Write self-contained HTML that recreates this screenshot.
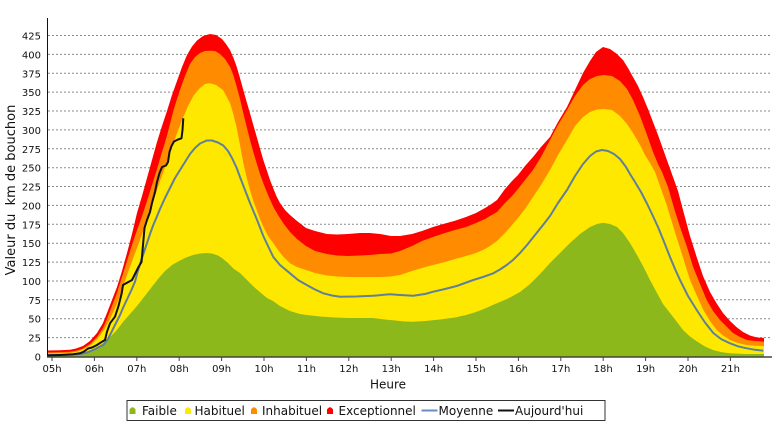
<!DOCTYPE html>
<html><head><meta charset="utf-8"><style>
html,body{margin:0;padding:0;background:#fff;}
svg{display:block;}
text{font-family:"DejaVu Sans","Liberation Sans",sans-serif;fill:#111;}
</style></head><body>
<svg width="776" height="437" viewBox="0 0 776 437" xmlns="http://www.w3.org/2000/svg">
<rect width="776" height="437" fill="#fff"/>
<!-- grid -->
<g stroke="#8a8a8a" stroke-width="1" stroke-dasharray="2,2">
<line x1="48" y1="337.6" x2="771" y2="337.6"/>
<line x1="48" y1="318.7" x2="771" y2="318.7"/>
<line x1="48" y1="299.8" x2="771" y2="299.8"/>
<line x1="48" y1="281" x2="771" y2="281"/>
<line x1="48" y1="262.1" x2="771" y2="262.1"/>
<line x1="48" y1="243.2" x2="771" y2="243.2"/>
<line x1="48" y1="224.3" x2="771" y2="224.3"/>
<line x1="48" y1="205.4" x2="771" y2="205.4"/>
<line x1="48" y1="186.5" x2="771" y2="186.5"/>
<line x1="48" y1="167.7" x2="771" y2="167.7"/>
<line x1="48" y1="148.8" x2="771" y2="148.8"/>
<line x1="48" y1="129.9" x2="771" y2="129.9"/>
<line x1="48" y1="111" x2="771" y2="111"/>
<line x1="48" y1="92.1" x2="771" y2="92.1"/>
<line x1="48" y1="73.3" x2="771" y2="73.3"/>
<line x1="48" y1="54.4" x2="771" y2="54.4"/>
<line x1="48" y1="35.5" x2="771" y2="35.5"/>
</g>
<!-- red -->
<polygon fill="#ff0000" points="47,350.5 60,350.3 70,349.7 76,348.5 83,346 90,341 97,333 103,323 107,313 112,300 117,287 122,271 127,253 132,234 137,213 142,196 147,178 152,160 157,142 162,126 167,111 172,95 177,81 182,67 187,55 192,46.5 197,40.5 203,36 210,34 216,35 222,39 226,44 230,50 233.5,58 236.7,66.7 240,78 243.3,90 246.7,102 250,113.3 253.3,125 256.7,136.7 260,148.5 263.3,160 266.7,170 270,180 273.3,188.5 276.7,196.7 280,203 285,210 290,215 297,221 306,228 315,231 327,234 337,234.5 348,234 360,233 370,233 380,234 391,236 400,236 412,234 422,231 433,227 445,223.5 455,220.7 466,217 476,213 485,208 490,205 497,200 505,189 512,181 518,175 525,166 533,157 541,147 550,137 558,122 567,107 575,90 583,73 590,61 596,52 603,47 610,49 617,54 623,60 628,68 633,77 638,86 643,97 648,109 653,122 658,135 663,149 668,163 673,177 678,191 683,210 690,236 697,258 703,276 710,292 717,304 723,313 730,321 737,327.5 743,332 750,335.5 757,337.5 764,338 764,357 47,357"/>
<!-- orange -->
<polygon fill="#ff8c00" points="47,352.5 60,352.3 70,351.8 76,350.8 83,348.5 90,344 97,337 103,328 107,319 112,306 117,293 122,277 127,261 132,245 137,230 140,222 146.7,202 151.7,186 156.7,170 161.7,153 166.7,136.7 170,124 173.3,111 176.7,100 180,90 185,76 190,64 195,57 200,53 205,51 210,50.7 215,51 220,54 225,59 230,66.7 233.3,75 236.7,86.7 240,99 243.3,113.3 246.7,127 250,140 253.3,152 256.7,163.3 260,174 263.3,183.3 268,195 273.3,206.7 278,215 283.3,223.3 290,232 297,239 306,246 315,251 327,254 337,255.5 348,256 360,255.5 370,255 380,254 391,253.5 400,251 412,246 422,241 433,237 445,233 455,230 466,227 476,223 485,219 490,216 497,212 505,203 512,196 518,189 525,180 533,170 541,157 550,140 558,125 567,110 575,96 583,85 590,79 597,76 604,75 612,76 620,81 627,89 633,100 640,116 647,135 653,152 658,164 662,172 668,187 674,208 680,227 687,247 693,266.7 700,284 706.7,300 713,311 720,320 727,327 733,333 740,337 747,340 755,341 764,341.7 764,357 47,357"/>
<!-- yellow -->
<polygon fill="#ffe800" points="47,353.5 60,353.3 70,353 78,351.5 85,348.5 92,344 98,338 104,330 110,319 116,306 122,290 128,272 134,256 140,240 146,223 152,205 158,187 164,170 170,153 176,136 182,120 188,106 194,95 200,88 205,84 210,83.3 216,85 223,90 230,103 233,113 236.7,128 240,145 243.3,163 246.7,178 250,190 253.3,201 256.7,210 260,219 263.3,226.7 268,236 273.3,243.3 278,250 283.3,256.7 290,263.3 297,267 306,270 315,273 327,275.5 337,276.5 348,277 360,277 370,277 380,277 391,276.5 400,275 412,271 422,268 433,265 445,262 455,259 466,256 476,253 485,249 490,246 497,241 505,233 512,225 518,218 525,209 533,197 541,185 550,170 558,155 567,140 575,126 583,117 590,112 597,109.5 604,109 612,110 620,116 627,124 633,133 640,145 645,155 650,163 655,172 660,186 666.7,205 673.3,226.7 680,248 685,264 690,280 697,296 703.3,310 710,321 716.7,330 723,335.5 730,340 738,343 746.7,345 755,345.8 764,346 764,357 47,357"/>
<!-- green -->
<polygon fill="#8cb81c" points="47,356 60,355.5 70,355 80,353.5 88,351 95,348 102,344 109,338 116,331 123,322 130,314 137,306 144,297 151,288 158,279 165,271 172,265 179,261 186,257.5 193,255 200,253.5 206,253 212,253.5 218,255.5 222,258 228,263 234,269 240,273 247,280 254,287 261,293 267,298 273,301 280,306 290,311 300,314 307,315 320,316.5 335,317.5 348,318 360,318 373,318 385,319.5 395,320.5 405,321.5 413,321.7 425,321 440,319.5 455,317.5 466,315 476,312 485,308.5 495,304 507,299 520,292 530,284 540,274 550,263 561,252 570,243 580,234 590,227 597,224 603,222.7 610,224 617,227 623,233 630,243 637,255 643,266 650,280 657,293 663,304 670,313 677,322 683,330 690,336.5 697,341.5 705,346.5 713,350 722,352.3 730,353.3 745,354 764,354 764,357 47,357"/>
<!-- moyenne -->
<polyline fill="none" stroke="#5f7f9a" stroke-width="2" stroke-linejoin="round" points="47,355 60,355 70,354.8 80,354 87,352.5 93.3,350 98,347.5 103.3,345 108,339 111.7,331.7 116,323 120,315 123,308 126.7,300 131,291 135,281.7 137,274 140,264 143,255 146.7,244 150,234 153.3,225 156.7,217 160,209 165,198 170,188 175,178 180,170 185,162 190,154 195,148 200,143.5 206.7,140.5 212,140.5 218,142.5 223.3,145.5 228,151 232,158 236.7,168 240,177 245,190 250,203 256.7,219 263.3,236 268,246 273.3,257 280,265 290,273.3 298,280 306.7,285 315,289.5 323.3,293.3 332,295.5 340,296.7 356,296.5 373.3,295.7 390,294.3 400,295 413.3,295.7 425,294 433.3,291.7 445,289 456.7,286 465,283 473.3,280 483,277 493.3,273.3 500,269.5 506.7,265 513,260 520,253 527,245 535,235 543,225 550,216 558,203 567,190 575,176 583,164 590,156 596,151.5 602,150 608,151 614,154 620,159 626,167 630,174 635,182 641,192 646.7,203 652,214 658,227 663.3,240 670,257 675,269 680,280 688,296 696.7,310 705,322.5 713.3,333 721,339 730,343.3 738,346.3 746.7,348.3 755,349.8 763.3,350.7"/>
<!-- aujourd'hui -->
<polyline fill="none" stroke="#111" stroke-width="2" stroke-linejoin="round" points="47,355.5 60,355 73,354.3 80,353.3 84,351.5 88,348.5 92,347.5 97,345 102,341.7 105,340 107,331.7 110,323.3 115,316.7 118.3,306.7 121.7,293.3 123,285 127,282.7 132,280 135,274 138.5,267 141.5,262 143,245 144.5,228 147,220 150,212 152,203 155,192 157,182 159.5,173 162,167 166,165.5 168,162 169.5,152 171.5,146 174,141.5 178,139.5 181.5,138.3 182.5,130 183.3,118.3"/>
<!-- axes -->
<line x1="47.5" y1="18" x2="47.5" y2="357" stroke="#111" stroke-width="1"/>
<line x1="47" y1="357" x2="772" y2="357" stroke="#444" stroke-width="1.6"/>
<g stroke="#444" stroke-width="1">
<line x1="52" y1="357" x2="52" y2="361"/><line x1="94.4" y1="357" x2="94.4" y2="361"/><line x1="136.8" y1="357" x2="136.8" y2="361"/><line x1="179.2" y1="357" x2="179.2" y2="361"/><line x1="221.6" y1="357" x2="221.6" y2="361"/><line x1="264" y1="357" x2="264" y2="361"/><line x1="306.4" y1="357" x2="306.4" y2="361"/><line x1="348.8" y1="357" x2="348.8" y2="361"/><line x1="391.2" y1="357" x2="391.2" y2="361"/><line x1="433.6" y1="357" x2="433.6" y2="361"/><line x1="476" y1="357" x2="476" y2="361"/><line x1="518.4" y1="357" x2="518.4" y2="361"/><line x1="560.8" y1="357" x2="560.8" y2="361"/><line x1="603.2" y1="357" x2="603.2" y2="361"/><line x1="645.6" y1="357" x2="645.6" y2="361"/><line x1="688" y1="357" x2="688" y2="361"/><line x1="730.4" y1="357" x2="730.4" y2="361"/>
</g>
<!-- y labels -->
<g font-size="10" text-anchor="end">
<text x="41" y="360.5">0</text>
<text x="41" y="341.6">25</text>
<text x="41" y="322.7">50</text>
<text x="41" y="303.8">75</text>
<text x="41" y="285">100</text>
<text x="41" y="266.1">125</text>
<text x="41" y="247.2">150</text>
<text x="41" y="228.3">175</text>
<text x="41" y="209.4">200</text>
<text x="41" y="190.5">225</text>
<text x="41" y="171.7">250</text>
<text x="41" y="152.8">275</text>
<text x="41" y="133.9">300</text>
<text x="41" y="115">325</text>
<text x="41" y="96.1">350</text>
<text x="41" y="77.3">375</text>
<text x="41" y="58.4">400</text>
<text x="41" y="39.5">425</text>
</g>
<!-- x labels -->
<g font-size="10" text-anchor="middle">
<text x="52" y="372">05h</text><text x="94.4" y="372">06h</text><text x="136.8" y="372">07h</text><text x="179.2" y="372">08h</text><text x="221.6" y="372">09h</text><text x="264" y="372">10h</text><text x="306.4" y="372">11h</text><text x="348.8" y="372">12h</text><text x="391.2" y="372">13h</text><text x="433.6" y="372">14h</text><text x="476" y="372">15h</text><text x="518.4" y="372">16h</text><text x="560.8" y="372">17h</text><text x="603.2" y="372">18h</text><text x="645.6" y="372">19h</text><text x="688" y="372">20h</text><text x="730.4" y="372">21h</text>
</g>
<text x="388" y="388.5" font-size="12" text-anchor="middle">Heure</text>
<text transform="translate(15,190) rotate(-90)" font-size="13" text-anchor="middle" style="white-space:pre" xml:space="preserve">Valeur du  km de bouchon</text>
<!-- legend -->
<rect x="127" y="400.5" width="478" height="20" fill="#fff" stroke="#333" stroke-width="1"/>
<path d="M129.5,414 L129.5,409.5 Q132.5,405 135.5,409.5 L135.5,414 Z" fill="#8cb81c"/>
<text x="142" y="415" font-size="12">Faible</text>
<path d="M185,414 L185,409.5 Q188,405 191,409.5 L191,414 Z" fill="#ffe800"/>
<text x="194.5" y="415" font-size="12">Habituel</text>
<path d="M251,414 L251,409.5 Q254,405 257,409.5 L257,414 Z" fill="#ff8c00"/>
<text x="262" y="415" font-size="12">Inhabituel</text>
<path d="M327,414 L327,409.5 Q330,405 333,409.5 L333,414 Z" fill="#ff0000"/>
<text x="338.5" y="415" font-size="12">Exceptionnel</text>
<line x1="421.5" y1="410.5" x2="437.5" y2="410.5" stroke="#6a8cc0" stroke-width="2"/>
<text x="438.5" y="415" font-size="12">Moyenne</text>
<line x1="498" y1="410.5" x2="514" y2="410.5" stroke="#111" stroke-width="2"/>
<text x="515" y="415" font-size="12">Aujourd'hui</text>
</svg>
</body></html>
